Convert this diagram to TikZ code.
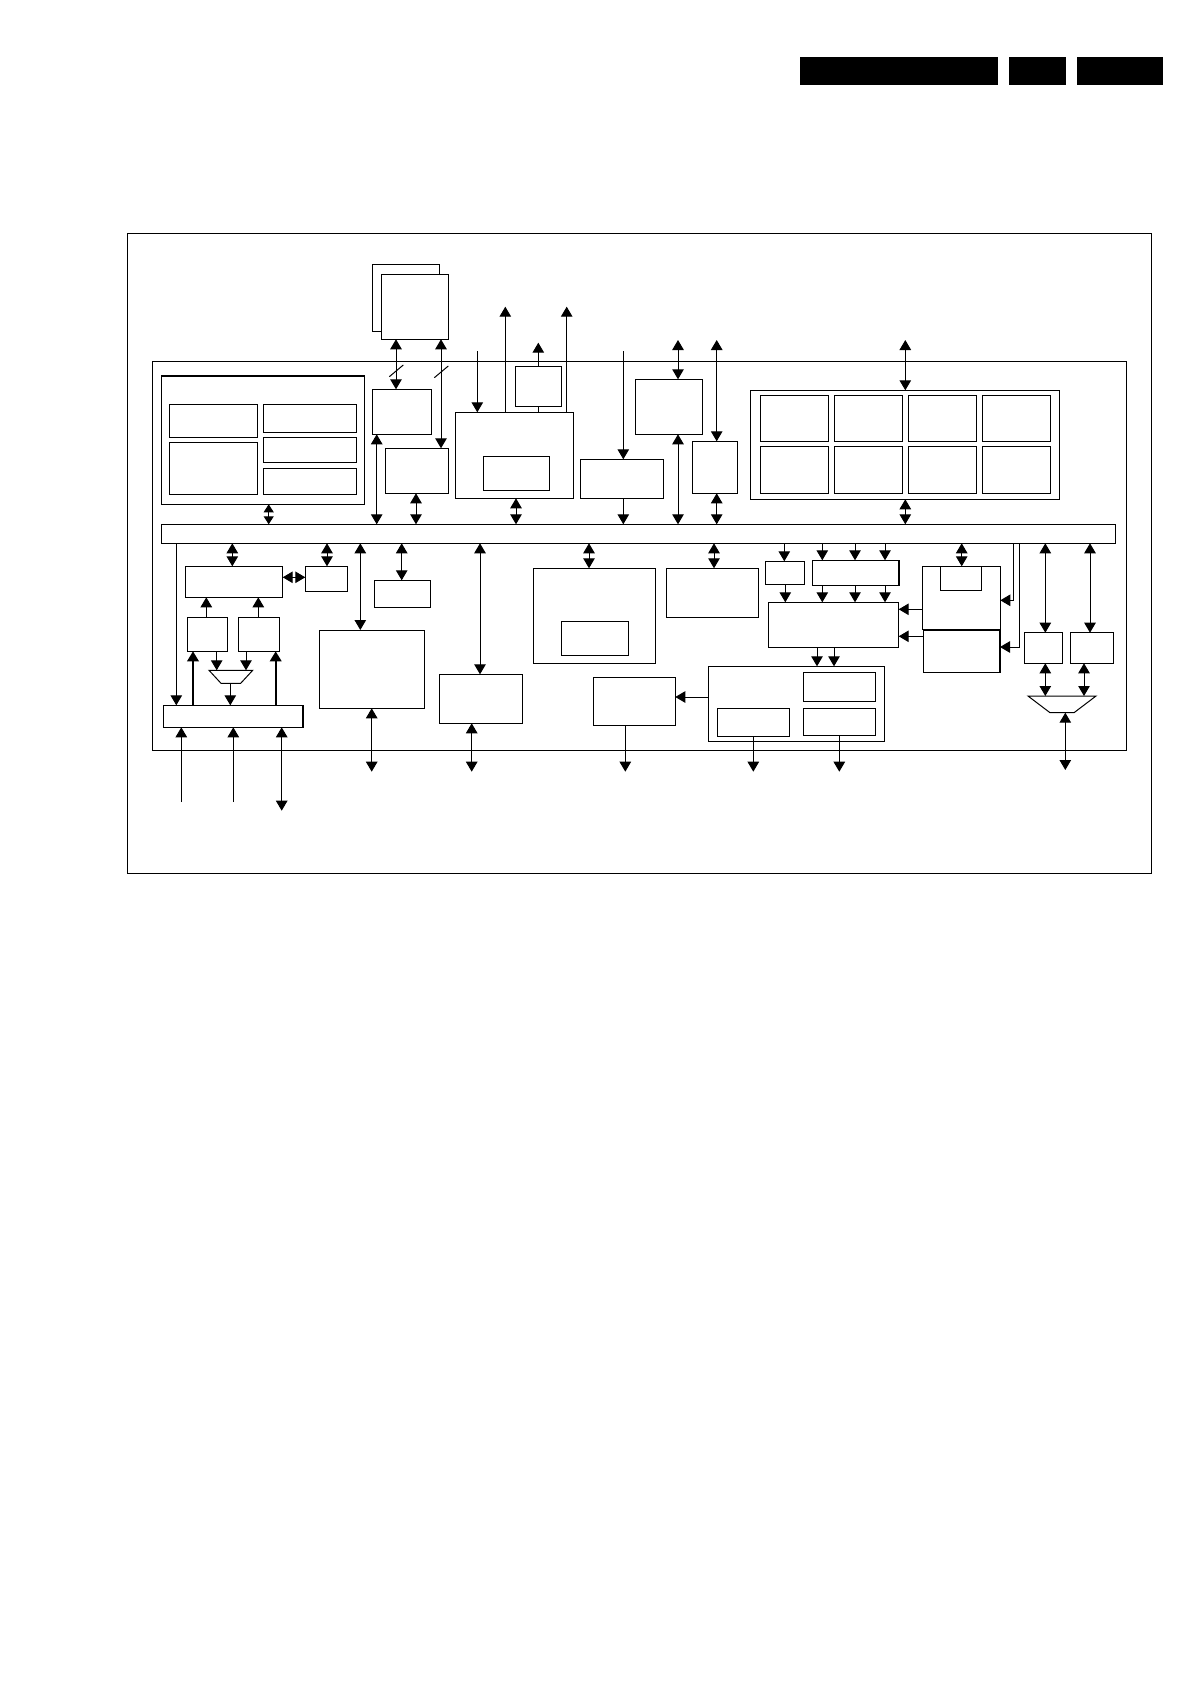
\documentclass[tikz,border=0pt]{standalone}
\usetikzlibrary{arrows.meta}
\newcommand{\mybox}[6][]{%
  \pgfmathsetmacro\bxw{#5-#3}\pgfmathsetmacro\bxh{#6-#4}%
  \node[box,#1,minimum width=\bxw pt,minimum height=\bxh pt,anchor=north west] (#2) at (#3,#4) {};}
\begin{document}
\begin{tikzpicture}[x=1pt,y=-1pt,
  >={Triangle[width=11.5pt,length=10pt]},
  box/.style={draw,line width=1pt,fill=white,inner sep=0pt,outer sep=0pt},
  bar/.style={fill=black,draw=none,inner sep=0pt,outer sep=0pt},
  ln/.style={line width=1pt},
  arr/.style={line width=1pt,->},
  darr/.style={line width=1pt,<->},
  sdarr/.style={line width=1pt,{Triangle[width=10pt,length=8pt]}-{Triangle[width=10pt,length=8pt]}}]
\fill[white] (0,0) rectangle (1192,1685);
\useasboundingbox (0,0) rectangle (1192,1685);
% header bars
\mybox[bar]{hb1}{800}{56.7}{998.3}{84.7}
\mybox[bar]{hb2}{1009}{56.7}{1066}{84.7}
\mybox[bar]{hb3}{1077}{56.7}{1162.7}{84.7}
% frames
\mybox{frame}{127.3}{233.3}{1151.5}{873}
\mybox{chip}{152.3}{361.3}{1126.7}{750}
\mybox{bus}{161.3}{524.3}{1115.5}{543.3}
% upper
\mybox{stackb}{372.3}{265}{439.3}{331.3}
\mybox{stackf}{381.3}{275}{448.3}{339.3}
\mybox{A}{372.3}{389.3}{431.3}{434.3}
\mybox{B}{385.3}{448.3}{448.3}{493.3}
\mybox{grp}{161.3}{375.7}{364.3}{504.3}
\draw[line width=2.2pt] (grp.north west) -- (grp.north east);
\mybox{g1}{169.3}{404}{257.3}{437.3}
\mybox{g2}{169.3}{442.3}{257.3}{494.3}
\mybox{g3}{263.3}{404}{356.3}{432.3}
\mybox{g4}{263.3}{437.3}{356.3}{462.3}
\mybox{g5}{263.3}{468.3}{356.3}{494.3}
\mybox{C}{455}{412.3}{573.3}{498.3}
\mybox{Ci}{483.3}{456.3}{549.3}{490.3}
\mybox{D}{515.3}{366}{561.3}{406.3}
\mybox{E}{580.3}{459.3}{663.3}{498.3}
\mybox{F}{635.3}{379.3}{702.3}{434.3}
\mybox{G}{692.3}{441.3}{737.3}{493.3}
\mybox{H}{750.3}{390.3}{1059.3}{499.3}
\mybox{h11}{760.3}{395.3}{828.3}{441.3}
\mybox{h12}{834.3}{395.3}{902.3}{441.3}
\mybox{h13}{908.3}{395.3}{976.3}{441.3}
\mybox{h14}{982.3}{395.3}{1050.3}{441.3}
\mybox{h21}{760.3}{446.3}{828.3}{493.3}
\mybox{h22}{834.3}{446.3}{902.3}{493.3}
\mybox{h23}{908.3}{446.3}{976.3}{493.3}
\mybox{h24}{982.3}{446.3}{1050.3}{493.3}
% lower
\mybox{I}{163.3}{705.3}{303.3}{727.3}
\draw[line width=2.2pt] (I.north east) -- (I.south east);
\mybox{J}{185.3}{566.3}{282.7}{597.3}
\mybox{K}{305.3}{566.3}{347.3}{591.3}
\mybox{L1}{187.3}{617.3}{227.3}{651.3}
\mybox{L2}{238.3}{617.3}{279.3}{651.3}
\mybox{N}{319.3}{630}{424.3}{708.3}
\mybox{O}{374.3}{580.3}{430.3}{607.3}
\mybox{P}{439.3}{674.3}{522.3}{723.3}
\mybox{Q}{533.3}{568.3}{655.3}{663.3}
\mybox{Qi}{561.3}{621}{628.3}{655.3}
\mybox{R}{666.3}{568.3}{758.3}{617.3}
\mybox{S}{765.3}{561.3}{804.3}{584.3}
\mybox{T}{812.3}{560.3}{899}{585.3}
\draw[line width=2.2pt] (T.north east) -- (T.south east);
\mybox{U}{768.3}{602.3}{898.7}{647.3}
\mybox{V}{708.3}{666.3}{884.3}{741.3}
\mybox{V1}{803.3}{672.3}{875.3}{701.7}
\mybox{V2}{717.3}{708.3}{789.3}{736.3}
\mybox{V3}{803.3}{708.3}{875.3}{735.3}
\mybox{W}{593.3}{677.3}{675.3}{725.3}
\mybox{X}{922.3}{566.3}{1000.3}{629.3}
\mybox{X0}{940.3}{566.3}{981.3}{590.3}
\mybox{Y}{923.3}{630}{1000}{672.3}
\draw[line width=2pt] (Y.north east) -- (Y.south east);
\mybox{Z1}{1024.3}{632.7}{1062.3}{663.3}
\mybox{Z2}{1070.3}{632.7}{1113.3}{663.3}
% multiplexers
\draw[ln] (209,670.3) -- (252.7,670.3) -- (240.7,683.3) -- (221,683.3) -- cycle;
\coordinate (M1t) at (230.8,670.3);
\coordinate (M1b) at (230.3,683.3);
\draw[ln] (1028,696) -- (1096,696) -- (1074,712.7) -- (1050,712.7) -- cycle;
\coordinate (M2t) at (1062,696);
\coordinate (M2b) at (1065.3,712.7);
% free ends
\coordinate (c1) at (477.3,351);
\coordinate (c2) at (505.3,306.7);
\coordinate (c3) at (566.7,306.7);
\coordinate (c4) at (538.3,342.7);
\coordinate (c5) at (623.3,351);
\coordinate (c6) at (678,340);
\coordinate (c7) at (716.7,340);
\coordinate (c8) at (905.3,340);
\coordinate (i1) at (181.3,802);
\coordinate (i2) at (233.3,802);
\coordinate (i3) at (281.7,810.7);
\coordinate (o1) at (371.7,771.7);
\coordinate (o2) at (471.7,771.7);
\coordinate (o3) at (625.3,771.7);
\coordinate (o4) at (753.3,771.7);
\coordinate (o5) at (839.3,771.7);
\coordinate (o6) at (1065.3,770);
% upper connectors
\draw[darr] (stackf.south -| 396,0) -- (A.north -| 396,0);
\draw[darr] (stackf.south -| 441,0) -- (B.north -| 441,0);
\draw[ln] (389.3,376.7) -- (403.3,365);
\draw[ln] (434.3,377.7) -- (448.3,366);
\draw[sdarr] (grp.south -| 268.7,0) -- (bus.north -| 268.7,0);
\draw[darr] (A.south -| 376.7,0) -- (bus.north -| 376.7,0);
\draw[darr] (B.south -| 416,0) -- (bus.north -| 416,0);
\draw[arr] (c1) -- (C.north -| c1);
\draw[arr] (C.north -| c2) -- (c2);
\draw[arr] (C.north -| c3) -- (c3);
\draw[ln] (D.south) -- (C.north -| D.south);
\draw[arr] (D.north) -- (c4);
\draw[darr] (C.south -| 516,0) -- (bus.north -| 516,0);
\draw[arr] (c5) -- (E.north -| c5);
\draw[arr] (E.south -| c5) -- (bus.north -| c5);
\draw[darr] (c6) -- (F.north -| c6);
\draw[darr] (F.south -| c6) -- (bus.north -| c6);
\draw[darr] (c7) -- (G.north -| c7);
\draw[darr] (G.south -| c7) -- (bus.north -| c7);
\draw[darr] (c8) -- (H.north -| c8);
\draw[darr] (H.south -| c8) -- (bus.north -| c8);
% lower connectors
\draw[arr] (bus.south -| 176.3,0) -- (I.north -| 176.3,0);
\draw[darr] (bus.south -| 232.3,0) -- (J.north -| 232.3,0);
\draw[darr] (J.east |- 0,577.3) -- (K.west |- 0,577.3);
\draw[darr] (bus.south -| 327,0) -- (K.north -| 327,0);
\draw[arr] (L1.north -| 206.3,0) -- (J.south -| 206.3,0);
\draw[arr] (L2.north -| 258.3,0) -- (J.south -| 258.3,0);
\draw[arr] (L1.south -| 216.7,0) -- (M1t -| 216.7,0);
\draw[arr] (L2.south -| 246,0) -- (M1t -| 246,0);
\draw[arr] (M1b) -- (I.north -| M1b);
\draw[arr,line width=2pt] (I.north -| 193,0) -- (L1.south -| 193,0);
\draw[arr,line width=2pt] (I.north -| 275.7,0) -- (L2.south -| 275.7,0);
\draw[arr] (i1) -- (I.south -| i1);
\draw[arr] (i2) -- (I.south -| i2);
\draw[darr] (I.south -| i3) -- (i3);
\draw[darr] (bus.south -| 360.3,0) -- (N.north -| 360.3,0);
\draw[darr] (N.south -| o1) -- (o1);
\draw[darr] (bus.south -| 401.7,0) -- (O.north -| 401.7,0);
\draw[darr] (bus.south -| 480,0) -- (P.north -| 480,0);
\draw[darr] (P.south -| o2) -- (o2);
\draw[darr] (bus.south -| 589,0) -- (Q.north -| 589,0);
\draw[darr] (bus.south -| 714,0) -- (R.north -| 714,0);
\draw[arr] (bus.south -| 784.3,0) -- (S.north -| 784.3,0);
\draw[arr] (S.south -| 785.3,0) -- (U.north -| 785.3,0);
\foreach \x in {822.3,855,885} {
  \draw[arr] (bus.south -| \x,0) -- (T.north -| \x,0);
  \draw[arr] (T.south -| \x,0) -- (U.north -| \x,0);
}
\foreach \x in {817,834} \draw[arr] (U.south -| \x,0) -- (V.north -| \x,0);
\draw[arr] (V.west |- 0,697) -- (W.east |- 0,697);
\draw[arr] (W.south -| o3) -- (o3);
\draw[arr] (V2.south -| o4) -- (o4);
\draw[arr] (V3.south -| o5) -- (o5);
\draw[darr] (bus.south -| 961.7,0) -- (X0.north -| 961.7,0);
\draw[arr] (X.west |- 0,609.3) -- (U.east |- 0,609.3);
\draw[arr] (Y.west |- 0,636.3) -- (U.east |- 0,636.3);
\draw[arr] (bus.south -| 1013.7,0) |- (X.east |- 0,600.3);
\draw[arr] (bus.south -| 1019.3,0) |- (Y.east |- 0,647);
\draw[darr] (bus.south -| 1045.3,0) -- (Z1.north -| 1045.3,0);
\draw[darr] (bus.south -| 1090,0) -- (Z2.north -| 1090,0);
\draw[darr] (Z1.south -| 1045.3,0) -- (M2t -| 1045.3,0);
\draw[darr] (Z2.south -| 1084,0) -- (M2t -| 1084,0);
\draw[darr] (M2b) -- (o6);
\end{tikzpicture}
\end{document}
